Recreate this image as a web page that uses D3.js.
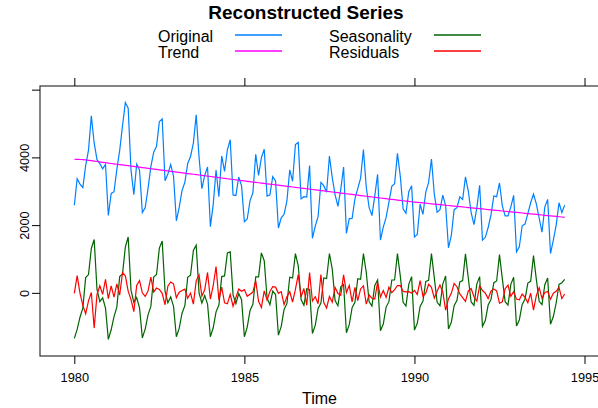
<!DOCTYPE html>
<html>
<head>
<meta charset="utf-8">
<script src="https://cdn.jsdelivr.net/npm/d3@7"></script>
<style>
  body { margin: 0; background: #fff; }
  svg { font-family: "Liberation Sans", Arial, sans-serif; }
</style>
</head>
<body>
<div id="chart"></div>
<script>
// monthly series, Jan 1980 .. Jun 1994
var startYear = 1980;
var frequency = 12;

var original = [
  2585,3368,3210,3111,3756,4216,5225,4426,3932,3816,3661,3795,
  2285,2934,2985,3646,4198,4935,5618,5454,3624,2898,3802,3629,
  2369,2511,3079,3728,4151,4326,5054,5138,3310,3508,3790,3446,
  2127,2523,3017,3265,3822,4027,4420,5255,4009,3074,3465,3718,
  1954,2604,3626,2836,4042,3584,4225,4523,2892,2876,3420,3159,
  2101,2181,2724,2954,4092,3470,3990,4239,2855,2897,3433,3307,
  1914,2214,2320,2714,3633,3295,4377,4442,2774,2840,2828,3758,
  1610,1968,2248,3262,3164,2972,4041,3402,2898,2555,3056,3717,
  1755,2193,2198,2777,3076,3389,4231,3118,2524,2280,2862,3502,
  1558,1940,2226,2676,3145,3224,4117,3446,2482,2349,2986,3163,
  1651,1725,2622,2316,2976,3263,3951,2917,2380,2458,2883,2579,
  1330,1686,2457,2514,2834,2757,3425,3006,2369,2017,2507,3177,
  1555,1640,1930,2300,2860,2840,3250,2570,2270,2270,2540,2880,
  1210,1360,1980,2030,2340,2660,2915,2630,2210,1790,2540,2760,
  1160,1555,2000,2660,2370,2590
];

var trend = [
  3944,3942,3938,3932,3924,3914,3903,3891,3879,3867,3855,3843,
  3831,3820,3809,3798,3787,3776,3765,3754,3743,3732,3721,3710,
  3699,3688,3677,3666,3655,3644,3633,3622,3611,3600,3589,3578,
  3567,3556,3545,3534,3523,3512,3501,3490,3479,3468,3457,3446,
  3435,3424,3413,3402,3391,3380,3369,3358,3347,3336,3325,3314,
  3304,3293,3283,3272,3262,3251,3241,3230,3220,3209,3199,3188,
  3178,3167,3157,3146,3136,3125,3115,3104,3094,3083,3073,3062,
  3052,3041,3031,3020,3010,2999,2989,2978,2968,2957,2947,2936,
  2926,2915,2905,2894,2884,2873,2863,2852,2842,2831,2821,2810,
  2800,2790,2780,2770,2760,2750,2740,2730,2720,2710,2700,2690,
  2681,2672,2664,2655,2647,2638,2630,2621,2613,2604,2596,2587,
  2579,2570,2562,2553,2545,2536,2528,2519,2511,2502,2494,2485,
  2477,2468,2460,2451,2443,2434,2426,2417,2409,2400,2392,2383,
  2375,2366,2358,2349,2341,2332,2324,2315,2307,2298,2290,2281,
  2273,2264,2256,2247,2239,2230
];

var seasonality = [
  -1345,-1080,-720,-450,450,540,1310,1575,100,-260,-150,-450,
  -1375,-1090,-700,-420,480,560,1350,1650,80,-280,-140,-440,
  -1330,-1070,-650,-400,470,540,1320,1530,50,-290,-120,-400,
  -1298,-1050,-600,-380,460,520,1250,1410,0,-300,-80,-330,
  -1298,-1030,-560,-360,480,500,1180,1210,-60,-320,-20,-200,
  -1298,-1010,-520,-340,470,470,1180,950,-150,-350,50,-50,
  -1250,-990,-490,-320,460,440,1160,800,-200,-370,120,100,
  -1200,-960,-460,-300,440,420,1160,700,-230,-380,180,250,
  -1180,-940,-440,-280,420,400,1160,600,-260,-390,220,380,
  -1120,-920,-420,-260,380,380,1160,500,-280,-390,250,480,
  -1100,-900,-400,-240,340,370,1160,450,-280,-380,260,500,
  -1070,-870,-380,-220,320,360,1150,430,-270,-370,260,480,
  -990,-820,-360,-200,300,350,1130,420,-260,-360,250,460,
  -980,-800,-340,-190,290,340,1100,400,-250,-350,240,440,
  -925,-700,-300,250,300,395
];

var residuals = [
  -14,506,-8,-371,-618,-238,12,-1040,-47,209,-44,402,
  -171,204,-124,268,-69,599,503,50,-199,-554,221,359,
  0,-107,52,462,26,142,101,-14,-351,198,321,268,
  -142,17,72,111,-161,-5,-331,355,530,-94,88,602,
  -183,210,773,-206,171,-296,-324,-45,-395,-140,115,45,
  95,-102,-39,22,360,-251,-431,59,-215,38,184,169,
  -14,37,-347,-112,37,-270,102,538,-120,127,-365,596,
  -242,-113,-323,542,-286,-447,-108,-276,160,-22,-71,531,
  9,218,-267,163,-228,116,208,-334,-58,-161,-179,312,
  -122,70,-134,166,5,94,217,216,42,29,36,-7,
  70,-47,358,-99,-11,255,161,-154,47,234,27,-508,
  -179,-14,275,181,-31,-139,-253,57,128,-115,-247,212,
  68,-8,-170,49,117,56,-306,-267,121,230,-102,37,
  -185,-206,-38,-129,-291,-12,-509,-85,153,-158,10,39,
  -188,-9,44,163,-169,-35
];

var seriesNames = ['Original', 'Trend', 'Seasonality', 'Residuals'];
var seriesColors = ['#0080ff', '#ff00ff', '#006400', '#ff0000'];
var xTicks = [1980, 1985, 1990, 1995];
var yTicks = [0, 2000, 4000, 6000];
var yLabels = ['0', '2000', '4000', ''];

var width = 598, height = 408;
var box = { left: 40, right: 599, top: 86, bottom: 356 };

var allSeries = [original, trend, seasonality, residuals];
var times = original.map(function(d, i){ return startYear + i / frequency; });

// lattice style padding of 7% on each side
var pad = function(ext){ var r = ext[1] - ext[0]; return [ext[0] - 0.07 * r, ext[1] + 0.07 * r]; };
var allValues = d3.merge(allSeries);

var x = d3.scaleLinear().domain(pad(d3.extent(times))).range([box.left, box.right]);
var y = d3.scaleLinear().domain(pad(d3.extent(allValues))).range([box.bottom, box.top]);

var svg = d3.select('#chart')
  .append('svg')
    .attr('width', width)
    .attr('height', height);

// series lines
var line = d3.line()
  .x(function(d, i){ return x(times[i]); })
  .y(function(d){ return y(d); });

svg.selectAll('.series').data(allSeries).enter().append('path')
  .attr('class', 'series')
  .attr('d', line)
  .attr('fill', 'none')
  .attr('stroke', function(d, i){ return seriesColors[i]; })
  .attr('stroke-width', 1.2);

// box
svg.append('rect')
  .attr('x', box.left)
  .attr('y', box.top)
  .attr('width', box.right - box.left)
  .attr('height', box.bottom - box.top)
  .attr('fill', 'none')
  .attr('stroke', '#333')
  .attr('stroke-width', 1.2);

// axes: bottom with labels, top ticks only, left rotated labels
var axisBottom = d3.axisBottom(x).tickValues(xTicks).tickSize(8).tickPadding(9).tickFormat(d3.format('d'));
var axisTop = d3.axisTop(x).tickValues(xTicks).tickSize(8).tickFormat('');
var axisLeft = d3.axisLeft(y).tickValues(yTicks).tickSize(8).tickFormat(function(d, i){ return yLabels[i]; });

var gb = svg.append('g').attr('transform', 'translate(0,' + box.bottom + ')').call(axisBottom);
var gt = svg.append('g').attr('transform', 'translate(0,' + box.top + ')').call(axisTop);
var gl = svg.append('g').attr('transform', 'translate(' + box.left + ',0)').call(axisLeft);

[gb, gt, gl].forEach(function(g){
  g.select('.domain').remove();
  g.selectAll('.tick line').attr('stroke', '#000').attr('stroke-width', 1);
});

gb.selectAll('.tick text')
  .attr('font-size', 12.8)
  .attr('font-family', '"Liberation Sans", Arial, sans-serif')
  .attr('fill', '#000');

gl.selectAll('.tick text')
  .attr('font-size', 12.8)
  .attr('font-family', '"Liberation Sans", Arial, sans-serif')
  .attr('fill', '#000')
  .attr('text-anchor', 'middle')
  .attr('dy', 0)
  .attr('x', -11)
  .attr('transform', 'rotate(-90,-11,0)');

// axis title
svg.append('text')
  .attr('x', (box.left + box.right) / 2)
  .attr('y', 404)
  .attr('text-anchor', 'middle')
  .attr('font-size', 16)
  .text('Time');

// title
svg.append('text')
  .attr('x', 306)
  .attr('y', 19)
  .attr('text-anchor', 'middle')
  .attr('font-size', 19)
  .attr('font-weight', 'bold')
  .text('Reconstructed Series');

// legend, two columns, text then line
var legendCols = [158, 329];
var legendLineX = [[235, 282], [434, 481]];
var legendRowsY = [41.5, 58];
var legendLineY = [35, 51];

var legend = svg.selectAll('.legend').data(seriesNames).enter().append('g')
  .attr('class', 'legend');

legend.append('text')
  .attr('x', function(d, i){ return legendCols[Math.floor(i / 2)]; })
  .attr('y', function(d, i){ return legendRowsY[i % 2]; })
  .attr('font-size', 16)
  .text(function(d){ return d; });

legend.append('line')
  .attr('x1', function(d, i){ return legendLineX[Math.floor(i / 2)][0]; })
  .attr('x2', function(d, i){ return legendLineX[Math.floor(i / 2)][1]; })
  .attr('y1', function(d, i){ return legendLineY[i % 2]; })
  .attr('y2', function(d, i){ return legendLineY[i % 2]; })
  .style('stroke', function(d, i){ return seriesColors[i]; })
  .attr('stroke-width', 1.4);
</script>
</body>
</html>
